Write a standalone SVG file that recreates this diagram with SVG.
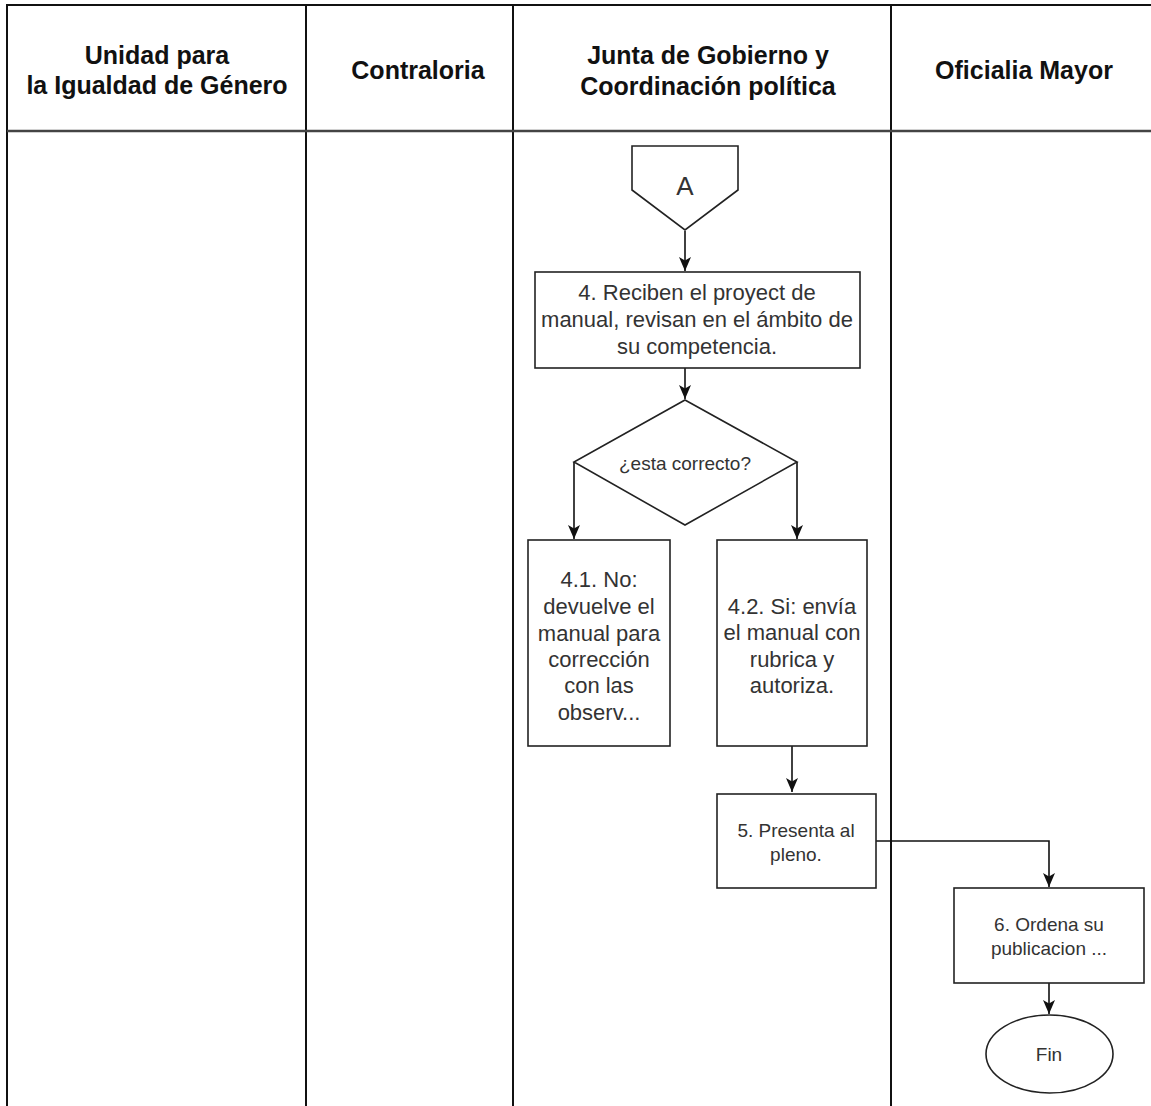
<svg xmlns="http://www.w3.org/2000/svg" width="1151" height="1106" viewBox="0 0 1151 1106">
  <style>
    .lane { fill: none; stroke: #111; stroke-width: 2; }
    .hdr { font-family: "Liberation Sans", Arial, sans-serif; font-weight: bold; font-size: 25px; fill: #111; text-anchor: middle; }
    .shape { fill: #fff; stroke: #222; stroke-width: 1.6; }
    .t22 { font-family: "Liberation Sans", Arial, sans-serif; font-size: 22px; fill: #333; text-anchor: middle; dominant-baseline: central; }
    .t19 { font-family: "Liberation Sans", Arial, sans-serif; font-size: 19px; fill: #333; text-anchor: middle; dominant-baseline: central; }
    .edge { fill: none; stroke: #111; stroke-width: 1.6; }
  </style>
  <defs>
    <marker id="arrow" viewBox="0 0 14 14" refX="14" refY="7" markerWidth="14" markerHeight="14" markerUnits="userSpaceOnUse" orient="auto">
      <path d="M0,1 L14,7 L0,13 L3.5,7 Z" fill="#111"/>
    </marker>
  </defs>

  <rect width="1151" height="1106" fill="#fff"/>

  <!-- swimlane frame -->
  <g id="lanes">
    <path class="lane" d="M7,1106 V5 H1151"/>
    <line class="lane" x1="306" y1="5" x2="306" y2="1106"/>
    <line class="lane" x1="513" y1="5" x2="513" y2="1106"/>
    <line class="lane" x1="891" y1="5" x2="891" y2="1106"/>
    <line x1="7" y1="131" x2="1151" y2="131" stroke="#444" stroke-width="2.4"/>
  </g>

  <g id="headers">
    <text class="hdr" x="157" y="64">Unidad para</text>
    <text class="hdr" x="157" y="94">la Igualdad de Género</text>
    <text class="hdr" x="418" y="79">Contraloria</text>
    <text class="hdr" x="708" y="64">Junta de Gobierno y</text>
    <text class="hdr" x="708" y="95">Coordinación política</text>
    <text class="hdr" x="1024" y="79">Oficialia Mayor</text>
  </g>

  <!-- connectors -->
  <g id="connectors">
    <line class="edge" x1="685" y1="231" x2="685" y2="271" marker-end="url(#arrow)"/>
    <line class="edge" x1="685" y1="368" x2="685" y2="399" marker-end="url(#arrow)"/>
    <polyline class="edge" points="574,462 574,539" marker-end="url(#arrow)"/>
    <polyline class="edge" points="797,462 797,539" marker-end="url(#arrow)"/>
    <line class="edge" x1="792" y1="746" x2="792" y2="792" marker-end="url(#arrow)"/>
    <polyline class="edge" points="876,841 1049,841 1049,887" marker-end="url(#arrow)"/>
    <line class="edge" x1="1049" y1="983" x2="1049" y2="1014" marker-end="url(#arrow)"/>
  </g>

  <!-- off-page connector A -->
  <g id="node-a">
    <path class="shape" d="M632,146 H738 V190 L685,230 L632,190 Z"/>
    <text class="t22" x="685" y="186" style="font-size:26px">A</text>
  </g>

  <g id="node-4">
    <rect class="shape" x="535" y="272" width="325" height="96"/>
    <text class="t22" x="697" y="292">4. Reciben el proyect de</text>
    <text class="t22" x="697" y="319">manual, revisan en el ámbito de</text>
    <text class="t22" x="697" y="346">su competencia.</text>
  </g>

  <g id="decision">
    <path class="shape" d="M685,400 L797,462 L685,525 L574,462 Z"/>
    <text class="t19" x="685" y="463">¿esta correcto?</text>
  </g>

  <g id="node-4-1">
    <rect class="shape" x="528" y="540" width="142" height="206"/>
    <text class="t22" x="599" y="579">4.1. No:</text>
    <text class="t22" x="599" y="606">devuelve el</text>
    <text class="t22" x="599" y="633">manual para</text>
    <text class="t22" x="599" y="659">corrección</text>
    <text class="t22" x="599" y="685">con las</text>
    <text class="t22" x="599" y="712">observ...</text>
  </g>

  <g id="node-4-2">
    <rect class="shape" x="717" y="540" width="150" height="206"/>
    <text class="t22" x="792" y="606">4.2. Si: envía</text>
    <text class="t22" x="792" y="632">el manual con</text>
    <text class="t22" x="792" y="659">rubrica y</text>
    <text class="t22" x="792" y="685">autoriza.</text>
  </g>

  <g id="node-5">
    <rect class="shape" x="717" y="794" width="159" height="94"/>
    <text class="t19" x="796" y="830">5. Presenta al</text>
    <text class="t19" x="796" y="854">pleno.</text>
  </g>

  <g id="node-6">
    <rect class="shape" x="954" y="888" width="190" height="95"/>
    <text class="t19" x="1049" y="924">6. Ordena su</text>
    <text class="t19" x="1049" y="948">publicacion ...</text>
  </g>

  <g id="node-fin">
    <ellipse class="shape" cx="1049.5" cy="1054" rx="63.5" ry="39"/>
    <text class="t19" x="1049" y="1054">Fin</text>
  </g>
</svg>
